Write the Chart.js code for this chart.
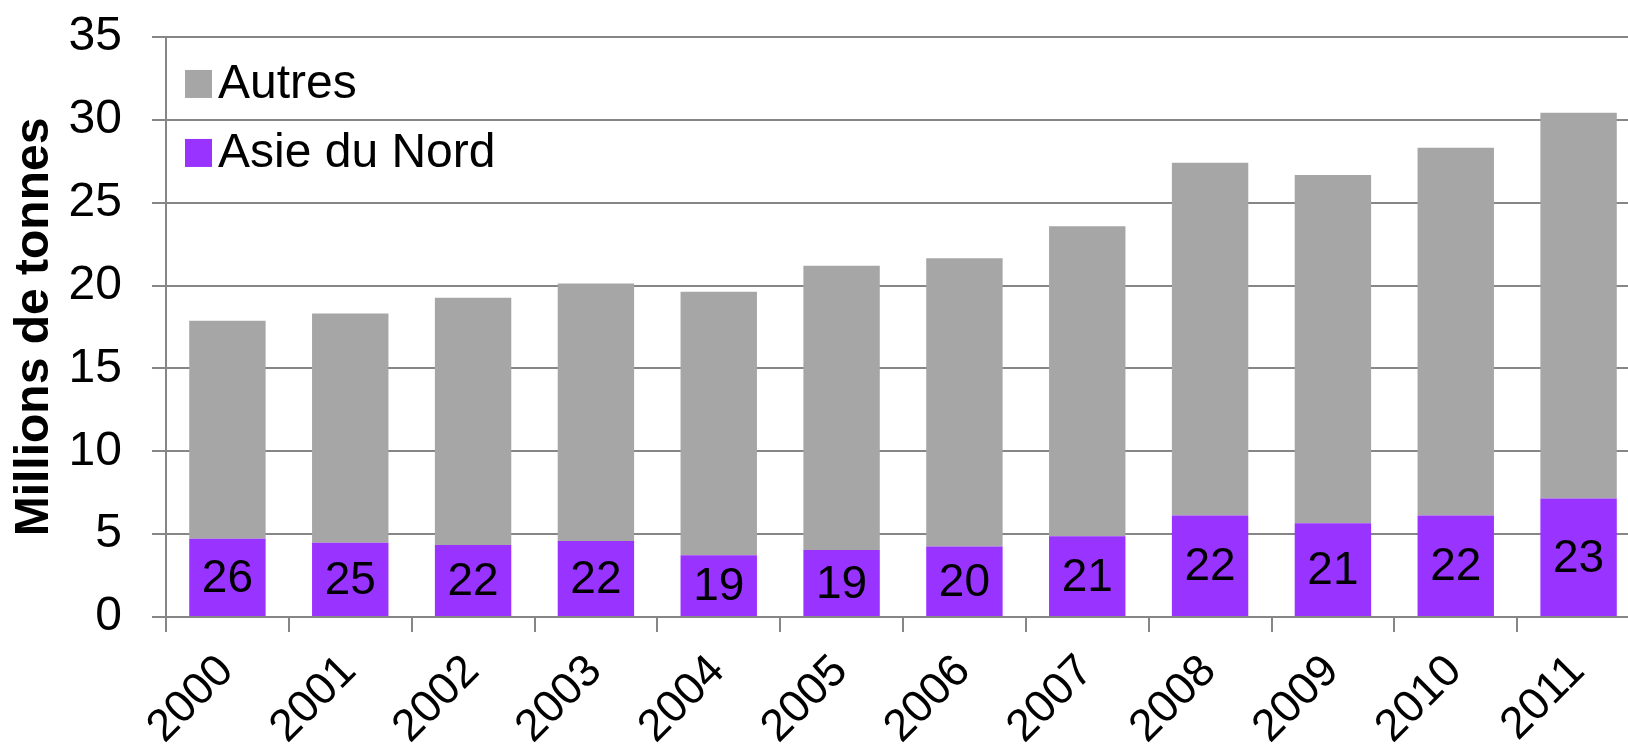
<!DOCTYPE html>
<html lang="fr">
<head>
<meta charset="utf-8">
<title>Asie du Nord</title>
<script src="https://cdn.jsdelivr.net/npm/chart.js@4.4.1/dist/chart.umd.min.js"></script>
<style>
    html, body { margin: 0; padding: 0; overflow: hidden; background: #fff; }
    #cadre { width: 1640px; height: 752px; position: relative; }
</style>
</head>
<body>
<div id="cadre"><canvas id="graphique"></canvas></div>
<script>
// Années (axe X)
const annees = ['2000', '2001', '2002', '2003', '2004', '2005', '2006', '2007', '2008', '2009', '2010', '2011'];
// Millions de tonnes - Asie du Nord (partie violette)
const asieNord = [4.72, 4.48, 4.34, 4.58, 3.72, 4.04, 4.26, 4.88, 6.13, 5.66, 6.13, 7.15];
// Millions de tonnes - Autres (partie grise, empilée)
const autres = [13.16, 13.83, 14.92, 15.55, 15.91, 17.16, 17.38, 18.70, 21.28, 21.01, 22.19, 23.28];
// Part de l'Asie du Nord (%) écrite dans les barres
const partsAsieNord = [26, 25, 22, 22, 19, 19, 20, 21, 22, 21, 22, 23];

const police = '"Liberation Sans", Arial, sans-serif';

// Étiquettes au centre de la partie violette
const etiquettesParts = {
    id: 'etiquettesParts',
    afterDatasetsDraw(chart) {
        const ctx = chart.ctx;
        const meta = chart.getDatasetMeta(0);
        ctx.save();
        ctx.font = '46px ' + police;
        ctx.fillStyle = '#000';
        ctx.textAlign = 'center';
        ctx.textBaseline = 'middle';
        meta.data.forEach((barre, i) => {
            ctx.fillText(String(partsAsieNord[i]), barre.x, (barre.y + barre.base) / 2 + 2);
        });
        ctx.restore();
    }
};

// Légende dans le coin haut gauche de la zone du graphique
const legendeInterne = {
    id: 'legendeInterne',
    afterDraw(chart) {
        const ctx = chart.ctx;
        const zone = chart.chartArea;
        const ordre = [1, 0]; // Autres en haut
        ctx.save();
        ctx.font = '48px ' + police;
        ctx.textAlign = 'left';
        ctx.textBaseline = 'middle';
        ordre.forEach((idx, k) => {
            const ds = chart.data.datasets[idx];
            const x = zone.left + 19;
            const y = zone.top + 33 + k * 69;
            ctx.fillStyle = ds.backgroundColor;
            ctx.fillRect(x, y, 27, 28);
            ctx.fillStyle = '#000';
            ctx.fillText(ds.label, x + 33, y + 15);
        });
        ctx.restore();
    }
};

const ctx = document.getElementById('graphique').getContext('2d');

new Chart(ctx, {
    type: 'bar',
    data: {
        labels: annees,
        datasets: [
            {
                label: 'Asie du Nord',
                data: asieNord,
                backgroundColor: '#9933FF',
                borderWidth: 0
            },
            {
                label: 'Autres',
                data: autres,
                backgroundColor: '#A6A6A6',
                borderWidth: 0
            }
        ]
    },
    options: {
        responsive: true,
        maintainAspectRatio: false,
        animation: false,
        layout: { padding: 0 },
        categoryPercentage: 1.0,
        barPercentage: 0.622,
        plugins: {
            legend: { display: false },
            tooltip: { enabled: false }
        },
        scales: {
            x: {
                stacked: true,
                afterFit: (echelle) => { echelle.height = 135; },
                grid: {
                    drawOnChartArea: false,
                    drawTicks: true,
                    tickLength: 15,
                    color: '#868686',
                    lineWidth: 2
                },
                border: { color: '#868686', width: 2 },
                ticks: {
                    autoSkip: false,
                    maxRotation: 45,
                    minRotation: 45,
                    padding: 13,
                    labelOffset: -1,
                    color: '#000',
                    font: { family: police, size: 45 }
                }
            },
            y: {
                stacked: true,
                min: 0,
                max: 35,
                afterFit: (echelle) => { echelle.width = 166; },
                grid: {
                    color: '#868686',
                    lineWidth: 2,
                    tickLength: 14
                },
                border: { color: '#868686', width: 2 },
                ticks: {
                    stepSize: 5,
                    padding: 30,
                    color: '#000',
                    // interligne réduit : la marge du haut reste à 37 px
                    font: { family: police, size: 48, lineHeight: 0.29 }
                },
                title: {
                    display: true,
                    text: 'Millions de tonnes',
                    color: '#000',
                    padding: { top: 6, bottom: 4 },
                    font: { family: police, size: 48, weight: 'bold' }
                }
            }
        }
    },
    plugins: [etiquettesParts, legendeInterne]
});
</script>
</body>
</html>
